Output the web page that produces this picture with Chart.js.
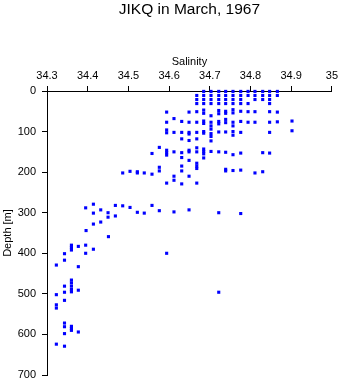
<!DOCTYPE html>
<html>
<head>
<meta charset="utf-8">
<script src="https://cdn.jsdelivr.net/npm/chart.js@4"></script>
<style>
  html, body { margin: 0; padding: 0; background: #fff; }
  #wrap { width: 341px; height: 384px; }
</style>
</head>
<body>
<div id="wrap"><canvas id="myChart" width="341" height="384"></canvas></div>
<script>
// station JIKQ, March 1967 - salinity vs depth
var salinity = [
    34.685, 34.703, 34.722, 34.739, 34.757, 34.776, 34.794, 34.811, 34.830, 34.847, 34.866,
    34.668, 34.685, 34.703, 34.722, 34.739, 34.757, 34.776, 34.794, 34.811, 34.830, 34.847, 34.866,
    34.668, 34.685, 34.703, 34.722, 34.739, 34.757, 34.776, 34.811, 34.830, 34.847,
    34.668, 34.685, 34.703, 34.722, 34.739, 34.757, 34.776, 34.794, 34.847,
    34.594, 34.649, 34.668, 34.685, 34.685, 34.703, 34.722, 34.722, 34.739, 34.739, 34.757, 34.757, 34.776, 34.794, 34.811, 34.847, 34.866,
    34.594, 34.612, 34.631, 34.649, 34.668, 34.685, 34.685, 34.703, 34.703, 34.722, 34.722, 34.739, 34.739, 34.757, 34.757, 34.776, 34.794, 34.811, 34.847, 34.866, 34.902,
    34.594, 34.594, 34.612, 34.631, 34.649, 34.649, 34.668, 34.685, 34.685, 34.703, 34.703, 34.703, 34.722, 34.739, 34.757, 34.757, 34.776, 34.847, 34.902,
    34.631, 34.649, 34.668, 34.703,
    34.576, 34.558, 34.594, 34.594, 34.594, 34.612, 34.631, 34.631, 34.649, 34.649, 34.668, 34.668, 34.685, 34.685, 34.685, 34.685, 34.703, 34.722, 34.739, 34.757, 34.776, 34.830, 34.847,
    34.649, 34.668, 34.668, 34.668, 34.631, 34.576, 34.576, 34.558, 34.612, 34.631, 34.649, 34.739, 34.739, 34.757, 34.776, 34.811, 34.830, 34.612, 34.594, 34.631, 34.668,
    34.486, 34.504, 34.522, 34.522, 34.539,
    34.558, 34.576, 34.612, 34.649, 34.722, 34.776,
    34.395, 34.414, 34.414, 34.432, 34.432, 34.450, 34.450, 34.468, 34.468, 34.486, 34.504, 34.522, 34.539, 34.414, 34.396, 34.451,
    34.343, 34.323, 34.343, 34.360, 34.360, 34.360, 34.377, 34.377, 34.395, 34.395, 34.414, 34.594,
    34.323, 34.323, 34.323, 34.343, 34.343, 34.343, 34.360, 34.360, 34.360, 34.360, 34.360, 34.377,
    34.343, 34.343, 34.343, 34.360, 34.360, 34.360, 34.377, 34.323, 34.343, 34.722
];
var depth = [
    1, 1, 1, 1, 1, 1, 1, 1, 1, 1, 1,
    11, 11, 11, 11, 11, 11, 11, 11, 11, 11, 11, 11,
    21, 21, 21, 21, 21, 21, 21, 21, 21, 21,
    31, 31, 31, 31, 31, 31, 31, 31, 31,
    52, 52, 51, 47, 55, 61, 48, 56, 50, 55, 46, 54, 50, 51, 51, 51, 52,
    77, 68, 75, 77, 77, 74, 80, 77, 86, 75, 81, 70, 78, 77, 86, 75, 77, 77, 77, 76, 74,
    96, 103, 102, 102, 102, 106, 102, 100, 104, 94, 105, 112, 101, 101, 100, 109, 102, 102, 98,
    118, 122, 118, 123,
    139, 154, 146, 152, 158, 150, 152, 164, 146, 150, 140, 150, 143, 149, 155, 165, 149, 150, 151, 157, 153, 152, 153,
    171, 178, 185, 191, 185, 188, 197, 205, 210, 197, 210, 193, 197, 196, 195, 202, 199, 220, 227, 229, 227,
    202, 198, 199, 202, 202,
    282, 295, 298, 293, 300, 302,
    288, 279, 301, 293, 323, 300, 311, 282, 308, 283, 287, 299, 301, 328, 344, 359,
    401, 429, 417, 380, 386, 392, 383, 433, 380, 400, 390, 400,
    502, 527, 535, 481, 496, 516, 466, 473, 481, 489, 495, 491,
    572, 581, 598, 580, 585, 590, 594, 624, 629, 496
];
var salinityTicks = [34.3, 34.4, 34.5, 34.6, 34.7, 34.8, 34.9, 35];
var depthTicks = [0, 100, 200, 300, 400, 500, 600, 700];

var points = salinity.map(function (s, i) { return { x: s, y: depth[i] }; });

Chart.defaults.font.family = '"Liberation Sans", Arial, sans-serif';
Chart.defaults.color = '#000';

var ctx = document.getElementById('myChart').getContext('2d');
var myChart = new Chart(ctx, {
    type: 'scatter',
    data: {
        datasets: [{
            data: points,
            pointStyle: 'rect',
            pointRadius: 2.2,
            pointBorderWidth: 0,
            backgroundColor: '#0000ff',
            borderColor: '#0000ff',
            clip: false
        }]
    },
    options: {
        responsive: false,
        animation: false,
        layout: { padding: { left: 0, right: 9, top: 0, bottom: 9 } },
        plugins: {
            legend: { display: false },
            tooltip: { enabled: false },
            title: {
                display: true,
                fullSize: false,
                text: 'JIKQ in March, 1967',
                font: { size: 15.5, weight: 'normal' },
                padding: { top: 0.5, bottom: 31.9 }
            }
        },
        scales: {
            x: {
                type: 'linear',
                position: 'top',
                min: 34.3,
                max: 35,
                afterBuildTicks: function (scale) {
                    scale.ticks = salinityTicks.map(function (v) { return { value: v }; });
                },
                afterFit: function (scale) { scale.height = 40; },
                ticks: {
                    font: { size: 11 },
                    padding: 3,
                    maxRotation: 0,
                    callback: function (v) { return String(Math.round(v * 10) / 10); }
                },
                grid: { drawOnChartArea: false, tickLength: 5, color: '#000' },
                border: { color: '#000', width: 1 },
                title: { display: true, text: 'Salinity', font: { size: 11 }, padding: { top: 4.4, bottom: 0 } }
            },
            y: {
                type: 'linear',
                reverse: true,
                min: 0,
                max: 700,
                afterBuildTicks: function (scale) {
                    scale.ticks = depthTicks.map(function (v) { return { value: v }; });
                },
                afterFit: function (scale) {
                    scale.width = 47;
                    scale.paddingTop = 0;
                    scale.paddingBottom = 0;
                },
                ticks: { font: { size: 11 }, padding: 6 },
                grid: { drawOnChartArea: false, tickLength: 5, color: '#000' },
                border: { color: '#000', width: 1 },
                title: { display: true, text: 'Depth [m]', font: { size: 11 }, padding: { top: 1.5, bottom: 0 } }
            }
        }
    }
});
</script>
</body>
</html>
